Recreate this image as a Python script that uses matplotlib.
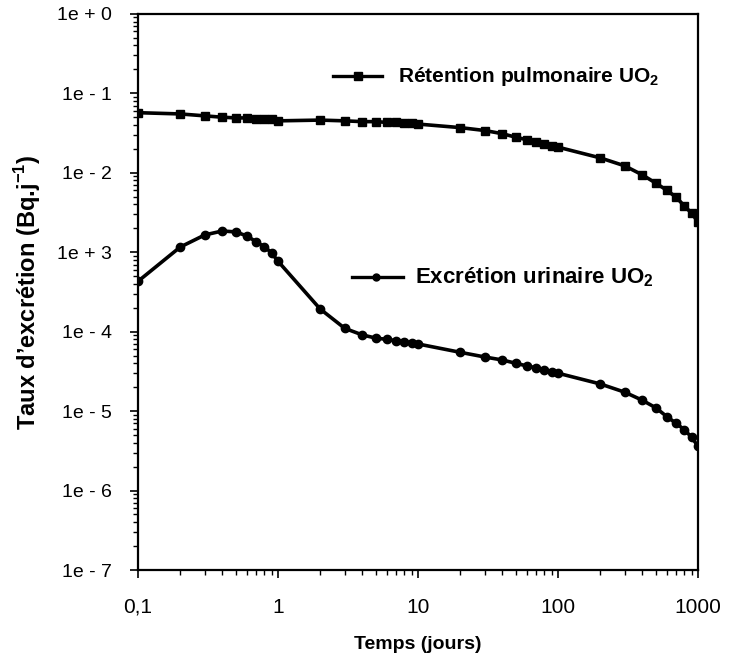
import matplotlib
matplotlib.use("Agg")
import matplotlib.pyplot as plt
from matplotlib.ticker import FixedLocator, LogLocator, NullFormatter

plt.rcParams['font.family'] = ['Liberation Sans', 'DejaVu Sans']
plt.rcParams['mathtext.fontset'] = 'custom'
plt.rcParams['mathtext.rm'] = 'Liberation Sans'
plt.rcParams['mathtext.bf'] = 'Liberation Sans:bold'

# temps (jours)
temps = [0.1, 0.2, 0.3, 0.4, 0.5, 0.6, 0.7, 0.8, 0.9,
         1, 2, 3, 4, 5, 6, 7, 8, 9,
         10, 20, 30, 40, 50, 60, 70, 80, 90,
         100, 200, 300, 400, 500, 600, 700, 800, 900, 1000]

retention = [0.057, 0.055, 0.052, 0.050, 0.049, 0.049, 0.048, 0.048, 0.048,
             0.045, 0.046, 0.045, 0.044, 0.044, 0.043, 0.043, 0.042, 0.042,
             0.041, 0.037, 0.034, 0.031, 0.028, 0.026, 0.0245, 0.023, 0.022,
             0.021, 0.0154, 0.0122, 0.0094, 0.0074, 0.0060, 0.0049, 0.0038, 0.0031, 0.0024]

urinaire = [4.3e-4, 1.16e-3, 1.65e-3, 1.85e-3, 1.8e-3, 1.6e-3, 1.35e-3, 1.17e-3, 9.8e-4,
            7.7e-4, 1.93e-4, 1.1e-4, 9.1e-5, 8.3e-5, 8.0e-5, 7.7e-5, 7.5e-5, 7.2e-5,
            7.0e-5, 5.5e-5, 4.8e-5, 4.4e-5, 4.0e-5, 3.7e-5, 3.5e-5, 3.3e-5, 3.1e-5,
            3.0e-5, 2.2e-5, 1.73e-5, 1.37e-5, 1.1e-5, 8.5e-6, 7.0e-6, 5.8e-6, 4.7e-6, 3.6e-6]

x_ticks = [0.1, 1, 10, 100, 1000]
x_labels = ['0,1', '1', '10', '100', '1000']
y_ticks = [1, 1e-1, 1e-2, 1e-3, 1e-4, 1e-5, 1e-6, 1e-7]
y_labels = ['1e + 0', '1e - 1', '1e - 2', '1e + 3', '1e - 4', '1e - 5', '1e - 6', '1e - 7']

fig = plt.figure(figsize=(7.34, 6.59), dpi=100)
ax = fig.add_axes([0.188, 0.135, 0.763, 0.844])

ax.plot(temps, retention, color='black', lw=2.6, marker='s', ms=6)
ax.plot(temps, urinaire, color='black', lw=2.6, marker='o', ms=6)

ax.set_xscale('log')
ax.set_yscale('log')
ax.set_xlim(0.1, 1000)
ax.set_ylim(1e-7, 1)

ax.xaxis.set_major_locator(FixedLocator(x_ticks))
ax.set_xticklabels(x_labels, fontsize=15)
ax.xaxis.set_minor_locator(LogLocator(base=10, subs=range(2, 10)))
ax.xaxis.set_minor_formatter(NullFormatter())
ax.yaxis.set_major_locator(FixedLocator(y_ticks))
ax.set_yticklabels(y_labels, fontsize=14)
ax.yaxis.set_minor_locator(LogLocator(base=10, subs=range(2, 10), numticks=20))
ax.yaxis.set_minor_formatter(NullFormatter())

ax.tick_params(which='major', direction='out', length=6, width=1.2)
ax.tick_params(which='minor', direction='out', length=3.5, width=1)
ax.tick_params(axis='y', which='major', pad=13)
ax.tick_params(axis='x', which='major', pad=14)
for s in ax.spines.values():
    s.set_linewidth(1.6)

ax.set_xlabel('Temps (jours)', fontsize=14, fontweight='bold', labelpad=14)
ax.set_ylabel('Taux d\u2019excrétion (Bq.j$^{\\mathbf{-1}}$)', fontsize=17, fontweight='bold', labelpad=10)

# légende (dessinée à la main comme sur l'original)
ax.plot([0.348, 0.436], [0.888, 0.888], transform=ax.transAxes, color='black', lw=2.4)
ax.plot([0.392], [0.888], transform=ax.transAxes, color='black', marker='s', ms=6)
ax.text(0.464, 0.888, 'Rétention pulmonaire UO$_\\mathbf{2}$', transform=ax.transAxes,
        fontsize=15, fontweight='bold', va='center', ha='left')

ax.plot([0.382, 0.473], [0.527, 0.527], transform=ax.transAxes, color='black', lw=2.4)
ax.plot([0.425], [0.527], transform=ax.transAxes, color='black', marker='o', ms=5)
ax.text(0.495, 0.527, 'Excrétion urinaire UO$_\\mathbf{2}$', transform=ax.transAxes,
        fontsize=16, fontweight='bold', va='center', ha='left')

fig.savefig('out.png', dpi=100)
